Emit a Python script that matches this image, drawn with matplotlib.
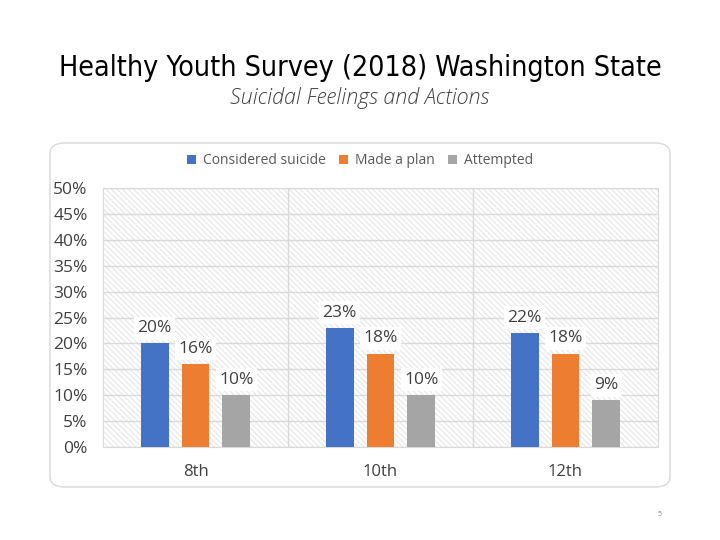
import numpy as np
import matplotlib.pyplot as plt
from matplotlib.patches import FancyBboxPatch

plt.rcParams['font.family'] = ['Open Sans', 'DejaVu Sans']
plt.rcParams['hatch.color'] = '#dcdcdc'
plt.rcParams['hatch.linewidth'] = 0.6

grades = ['8th', '10th', '12th']
series = ['Considered suicide', 'Made a plan', 'Attempted']
considered = [20, 23, 22]
made_plan = [16, 18, 18]
attempted = [10, 10, 9]
colors = ['#4472c4', '#ed7d31', '#a5a5a5']
yticks = [0, 5, 10, 15, 20, 25, 30, 35, 40, 45, 50]

fig = plt.figure(figsize=(7.2, 5.4), dpi=100)

# rounded chart frame
frame = FancyBboxPatch((50 / 720, 1 - 487 / 540), 620 / 720, 344 / 540,
                       boxstyle='round,pad=0,rounding_size=0.02',
                       transform=fig.transFigure, facecolor='white',
                       edgecolor='#d9d9d9', linewidth=1.0, zorder=-5)
fig.patches.append(frame)

fig.text(0.5, 1 - 68 / 540, 'Healthy Youth Survey (2018) Washington State',
         ha='center', va='center', fontsize=20.5, family='DejaVu Sans', fontstretch='condensed',
         color='black')
fig.text(0.5, 1 - 98 / 540, 'Suicidal Feelings and Actions', ha='center', va='center',
         fontsize=15.5, style='italic', weight='light', color='#404040',
         family=['Open Sans', 'DejaVu Sans'])

ax = fig.add_axes([103 / 720, 1 - 447 / 540, 555 / 720, 259 / 540])
ax.set_zorder(1)
ax.set_facecolor('white')
ax.patch.set_hatch('\\\\\\\\\\\\')
ax.patch.set_edgecolor('#e0e0e0')

x = np.arange(len(grades))
w = 0.15
off = 0.22
for i, (vals, name) in enumerate(zip([considered, made_plan, attempted], series)):
    xs = x + (i - 1) * off
    ax.bar(xs, vals, w, color=colors[i], label=name, zorder=3)
    for xi, v in zip(xs, vals):
        ax.annotate(f'{v}%', (xi, v), xytext=(0, 11), textcoords='offset points',
                    ha='center', va='center', fontsize=12.5, color='#404040', zorder=4,
                    bbox=dict(boxstyle='square,pad=0.2', fc='white', ec='none'))

ax.set_xlim(-0.5, 2.5)
ax.set_ylim(0, 50)
ax.set_yticks(yticks)
ax.set_yticklabels([f'{t}%' for t in yticks], fontsize=12.5, color='#404040')
ax.set_xticks(x)
ax.set_xticklabels(grades, fontsize=12, color='#404040')
ax.tick_params(axis='y', length=0, pad=11)
ax.tick_params(axis='x', length=0, pad=12)
ax.grid(axis='y', color='#d9d9d9', linewidth=1, zorder=1)
for b in [0.5, 1.5]:
    ax.axvline(b, color='#d9d9d9', linewidth=1, zorder=1)
for s in ax.spines.values():
    s.set_color('#d9d9d9')

ax.legend(loc='center', bbox_to_anchor=(0.5, 1 - 161 / 540), bbox_transform=fig.transFigure,
          ncol=3, frameon=False, fontsize=10, handlelength=0.6, handleheight=0.6,
          handletextpad=0.5, columnspacing=1.0, labelcolor='#595959')

fig.text(660 / 720, 1 - 514 / 540, '5', fontsize=5, color='#808080', ha='center', va='center')

fig.savefig('out.png', dpi=100)
